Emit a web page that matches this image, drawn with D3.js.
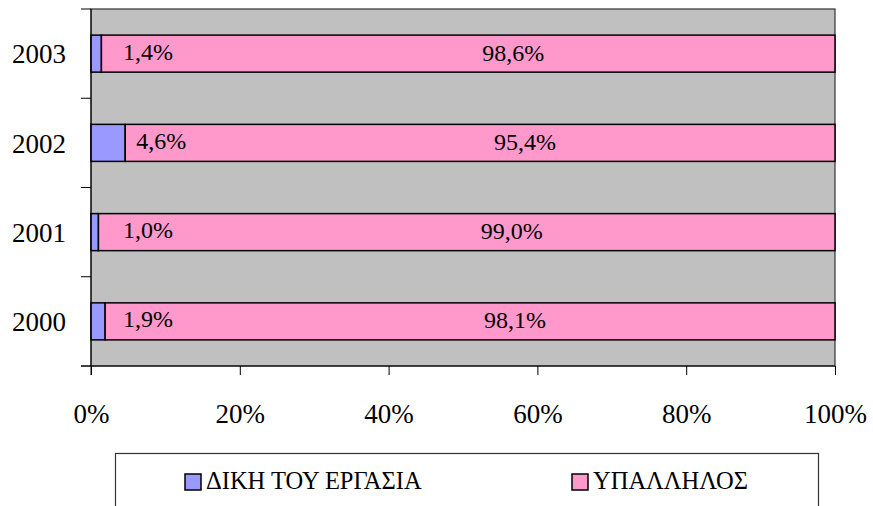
<!DOCTYPE html>
<html>
<head>
<meta charset="utf-8">
<script src="https://cdn.jsdelivr.net/npm/d3@7"></script>
<style>
  body { margin: 0; background: #fff; }
</style>
</head>
<body>
<script>
var years = ["2003", "2002", "2001", "2000"]
var own = [1.4, 4.6, 1.0, 1.9]
var employee = [98.6, 95.4, 99.0, 98.1]
var seriesNames = ["ΔΙΚΗ ΤΟΥ ΕΡΓΑΣΙΑ", "ΥΠΑΛΛΗΛΟΣ"]
var colors = ["#9999ff", "#ff99cc"]
var xTicks = [0, 20, 40, 60, 80, 100]

var font = "'Liberation Serif'"

var width = 873, height = 506
var margin = {top: 9, right: 38, bottom: 140, left: 91}
var w = width - margin.left - margin.right,
    h = height - margin.top - margin.bottom

var svg = d3.select("body").append("svg")
    .attr("width", width)
    .attr("height", height)

var g = svg.append("g")
    .attr("transform", "translate(" + margin.left + "," + margin.top + ")")

var x = d3.scaleLinear().domain([0, 100]).range([0, w])
var y = d3.scaleBand().domain(years).range([0, h]).paddingInner(0.585).paddingOuter(0.2925)

// plot area
g.append("rect")
    .attr("width", w).attr("height", h)
    .attr("fill", "#c0c0c0")
    .attr("stroke", "#333").attr("stroke-width", 1.2)

var rows = years.map(function(yr, i) {
  return {year: yr, own: own[i], emp: employee[i]}
})

var bar = g.selectAll(".row").data(rows).enter().append("g")
bar.append("rect")
    .attr("x", x(0))
    .attr("y", function(d) { return y(d.year) })
    .attr("width", function(d) { return x(d.own) - x(0) })
    .attr("height", y.bandwidth())
    .attr("fill", colors[0]).attr("stroke", "#000").attr("stroke-width", 1.5)
bar.append("rect")
    .attr("x", function(d) { return x(d.own) })
    .attr("y", function(d) { return y(d.year) })
    .attr("width", function(d) { return x(d.own + d.emp) - x(d.own) })
    .attr("height", y.bandwidth())
    .attr("fill", colors[1]).attr("stroke", "#000").attr("stroke-width", 1.5)

function fmt(v) { return v.toFixed(1).replace(".", ",") + "%" }

bar.append("text")
    .attr("x", function(d) { return Math.max(x(d.own) + 11, x(0) + 32) })
    .attr("y", function(d) { return y(d.year) + y.bandwidth() / 2 + 6 })
    .attr("font-size", 24)
    .style("font-family", font)
    .text(function(d) { return fmt(d.own) })
bar.append("text")
    .attr("x", function(d) { return (x(d.own) + x(100)) / 2 + 45 })
    .attr("y", function(d) { return y(d.year) + y.bandwidth() / 2 + 7 })
    .attr("text-anchor", "middle")
    .attr("font-size", 24)
    .style("font-family", font)
    .text(function(d) { return fmt(d.emp) })

// axes
var yAxis = g.append("g")
    .call(d3.axisLeft(y).tickSize(0).tickPadding(25))
yAxis.select(".domain").remove()
yAxis.selectAll("text").attr("font-size", 27).attr("dy", "0.36em").style("font-family", font)

// category ticks sit between bands
var bounds = d3.range(years.length + 1).map(function(i) { return i * y.step() })
g.selectAll(".ytick").data(bounds).enter().append("line")
    .attr("x1", -10).attr("x2", 0)
    .attr("y1", function(d) { return d }).attr("y2", function(d) { return d })
    .attr("stroke", "#000")

var xAxis = g.append("g")
    .attr("transform", "translate(0," + h + ")")
    .call(d3.axisBottom(x).tickValues(xTicks).tickSize(9).tickPadding(29)
      .tickFormat(function(d) { return d + "%" }))
xAxis.select(".domain").remove()
xAxis.selectAll("text").attr("font-size", 27).style("font-family", font)
g.append("line").attr("x1", -10).attr("x2", w).attr("y1", h).attr("y2", h).attr("stroke", "#000")
g.append("line").attr("x1", 0).attr("x2", 0).attr("y1", 0).attr("y2", h + 9).attr("stroke", "#000")

// legend
var lg = svg.append("g")
lg.append("rect")
    .attr("x", 115.5).attr("y", 453.5).attr("width", 703).attr("height", 70)
    .attr("fill", "#fff").attr("stroke", "#333").attr("stroke-width", 1.2)
var legendX = [185, 572]
var item = lg.selectAll(".item").data(seriesNames).enter().append("g")
    .attr("transform", function(d, i) { return "translate(" + legendX[i] + ",474)" })
item.append("rect")
    .attr("width", 16).attr("height", 16)
    .attr("fill", function(d, i) { return colors[i] })
    .attr("stroke", "#000").attr("stroke-width", 1.5)
item.append("text")
    .attr("x", 21).attr("y", 15)
    .attr("font-size", 24.5)
    .style("font-family", font)
    .text(function(d) { return d })
</script>
</body>
</html>
